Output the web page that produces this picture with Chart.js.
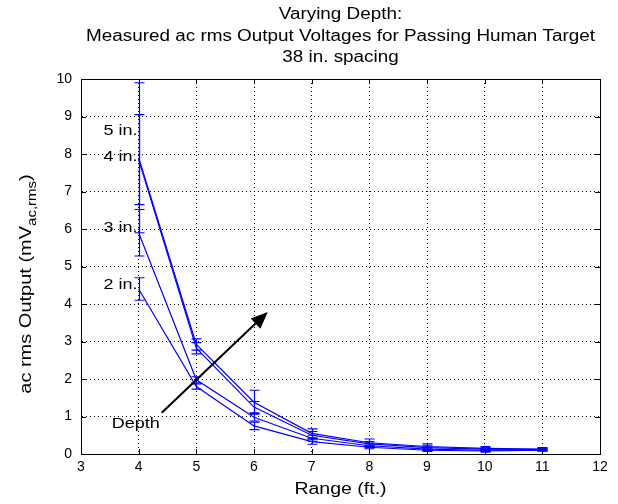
<!DOCTYPE html>
<html>
<head>
<meta charset="utf-8">
<script src="https://cdn.jsdelivr.net/npm/chart.js@4.4.0/dist/chart.umd.min.js"></script>
<style>
  html, body { margin: 0; padding: 0; background: #fff; }
  #wrap { width: 618px; height: 504px; }
</style>
</head>
<body>
<div id="wrap"><canvas id="depthChart" width="618" height="504"></canvas></div>
<script>
// ---- data ----
var ranges = [4, 5, 6, 7, 8, 9, 10, 11];
var depthNames = ['5 in.', '4 in.', '3 in.', '2 in.'];

var mean5in = [7.90, 2.92, 1.38, 0.55, 0.30, 0.20, 0.15, 0.13];
var err5in  = [2.00, 0.15, 0.32, 0.12, 0.10, 0.07, 0.05, 0.04];
var mean4in = [7.85, 2.82, 1.25, 0.50, 0.27, 0.17, 0.13, 0.12];
var err4in  = [1.20, 0.15, 0.15, 0.10, 0.06, 0.05, 0.04, 0.03];
var mean3in = [5.90, 1.98, 0.98, 0.42, 0.22, 0.13, 0.10, 0.11];
var err3in  = [0.62, 0.08, 0.10, 0.08, 0.05, 0.04, 0.03, 0.03];
var mean2in = [4.40, 1.80, 0.75, 0.33, 0.18, 0.10, 0.08, 0.10];
var err2in  = [0.30, 0.07, 0.10, 0.07, 0.04, 0.03, 0.03, 0.02];

var titleLines = ['Varying Depth:', 'Measured ac rms Output Voltages for Passing Human Target', '38 in. spacing'];
var xTitle = 'Range (ft.)';

// label anchors in data units
var depthLabelPos = [[3.98, 8.62], [3.98, 7.93], [3.98, 6.03], [3.98, 4.50]];
var arrowFrom = [4.40, 1.10];
var arrowTo = [6.24, 3.79];
var depthTextPos = [3.95, 0.80];

var FONT = '"Liberation Sans", Arial, sans-serif';
var BLUE = '#0000ff';
var STRETCH = 1.18;   // the old bitmap font is wider than Arial

function series(means, errs, name) {
    return {
        label: name,
        data: ranges.map(function (r, i) { return { x: r, y: means[i] }; }),
        errors: errs,
        borderColor: BLUE,
        backgroundColor: BLUE,
        borderWidth: 1.2,
        pointRadius: 0,
        tension: 0,
        fill: false
    };
}

function wideText(ctx, s, x, y, align, sx) {
    ctx.save();
    ctx.translate(x, y);
    ctx.scale(sx || STRETCH, 1);
    ctx.textAlign = align;
    ctx.fillText(s, 0, 0);
    ctx.restore();
}

// error bars with caps
var errorBars = {
    id: 'errorBars',
    afterDatasetsDraw: function (chart) {
        var ctx = chart.ctx, xs = chart.scales.x, ys = chart.scales.y;
        chart.data.datasets.forEach(function (ds) {
            ctx.save();
            ctx.strokeStyle = ds.borderColor;
            ctx.lineWidth = 1.2;
            ds.data.forEach(function (p, i) {
                var px = Math.round(xs.getPixelForValue(p.x)) + 0.5;
                var top = ys.getPixelForValue(p.y + ds.errors[i]);
                var bot = ys.getPixelForValue(p.y - ds.errors[i]);
                ctx.beginPath();
                ctx.moveTo(px, top); ctx.lineTo(px, bot);
                ctx.moveTo(px - 5, top); ctx.lineTo(px + 5, top);
                ctx.moveTo(px - 5, bot); ctx.lineTo(px + 5, bot);
                ctx.stroke();
            });
            ctx.restore();
        });
    }
};

// frame, inward ticks, titles, labels, arrow
var decorations = {
    id: 'decorations',
    afterDraw: function (chart) {
        var ctx = chart.ctx, a = chart.chartArea, xs = chart.scales.x, ys = chart.scales.y;
        ctx.save();
        ctx.strokeStyle = '#000';
        ctx.lineWidth = 1;
        ctx.strokeRect(Math.round(a.left) + 0.5, Math.round(a.top) + 0.5,
            Math.round(a.right - a.left), Math.round(a.bottom - a.top));

        ctx.beginPath();
        xs.ticks.forEach(function (t) {
            var px = Math.round(xs.getPixelForValue(t.value)) + 0.5;
            ctx.moveTo(px, a.bottom); ctx.lineTo(px, a.bottom - 5);
            ctx.moveTo(px, a.top); ctx.lineTo(px, a.top + 5);
        });
        ys.ticks.forEach(function (t) {
            var py = Math.round(ys.getPixelForValue(t.value)) + 0.5;
            ctx.moveTo(a.left, py); ctx.lineTo(a.left + 5, py);
            ctx.moveTo(a.right, py); ctx.lineTo(a.right - 5, py);
        });
        ctx.stroke();

        ctx.fillStyle = '#000';
        ctx.textBaseline = 'middle';
        var cx = (a.left + a.right) / 2;
        ctx.font = '16px ' + FONT;
        titleLines.forEach(function (s, i) { wideText(ctx, s, cx, 15 + i * 21.5, 'center'); });
        wideText(ctx, xTitle, cx, 490, 'center', 1.22);

        // y title with subscript
        ctx.save();
        ctx.translate(27, 284);
        ctx.rotate(-Math.PI / 2);
        ctx.scale(1.25, 1);
        var main = 'ac rms Output (mV', sub = 'ac,rms', close = ')';
        ctx.font = '16px ' + FONT;
        var w1 = ctx.measureText(main).width, w3 = ctx.measureText(close).width;
        ctx.font = '12px ' + FONT;
        var w2 = ctx.measureText(sub).width;
        var x0 = -(w1 + w2 + w3) / 2;
        ctx.textAlign = 'left';
        ctx.font = '16px ' + FONT;
        ctx.fillText(main, x0, 0);
        ctx.font = '12px ' + FONT;
        ctx.fillText(sub, x0 + w1, 6);
        ctx.font = '16px ' + FONT;
        ctx.fillText(close, x0 + w1 + w2, 0);
        ctx.restore();

        // depth labels
        ctx.font = '15px ' + FONT;
        depthNames.forEach(function (n, i) {
            wideText(ctx, n, xs.getPixelForValue(depthLabelPos[i][0]), ys.getPixelForValue(depthLabelPos[i][1]), 'right', 1.2);
        });
        wideText(ctx, 'Depth', xs.getPixelForValue(depthTextPos[0]), ys.getPixelForValue(depthTextPos[1]), 'center', 1.2);

        // arrow
        var x1 = xs.getPixelForValue(arrowFrom[0]), y1 = ys.getPixelForValue(arrowFrom[1]);
        var x2 = xs.getPixelForValue(arrowTo[0]), y2 = ys.getPixelForValue(arrowTo[1]);
        var ang = Math.atan2(y2 - y1, x2 - x1), hl = 17, hw = 7;
        var bx = x2 - hl * Math.cos(ang), by = y2 - hl * Math.sin(ang);
        ctx.lineWidth = 2;
        ctx.beginPath();
        ctx.moveTo(x1, y1); ctx.lineTo(bx, by);
        ctx.stroke();
        ctx.beginPath();
        ctx.moveTo(x2, y2);
        ctx.lineTo(bx + hw * Math.sin(ang), by - hw * Math.cos(ang));
        ctx.lineTo(bx - hw * Math.sin(ang), by + hw * Math.cos(ang));
        ctx.closePath();
        ctx.fill();
        ctx.restore();
    }
};

new Chart(document.getElementById('depthChart'), {
    type: 'line',
    data: {
        datasets: [
            series(mean5in, err5in, depthNames[0]),
            series(mean4in, err4in, depthNames[1]),
            series(mean3in, err3in, depthNames[2]),
            series(mean2in, err2in, depthNames[3])
        ]
    },
    options: {
        responsive: false,
        animation: false,
        devicePixelRatio: 1,
        layout: { padding: { top: 79, right: 18, bottom: 0, left: 0 } },
        scales: {
            x: {
                type: 'linear', min: 3, max: 12,
                afterFit: function (s) { s.height = 50; },
                ticks: { stepSize: 1, color: '#000', padding: 5, maxRotation: 0, font: { family: FONT, size: 14 } },
                grid: { color: '#000', lineWidth: 1, drawTicks: false },
                border: { display: true, color: '#000', width: 1, dash: [1, 3] }
            },
            y: {
                min: 0, max: 10,
                afterFit: function (s) { s.width = 81; },
                ticks: { stepSize: 1, color: '#000', padding: 9, font: { family: FONT, size: 14 } },
                grid: { color: '#000', lineWidth: 1, drawTicks: false },
                border: { display: true, color: '#000', width: 1, dash: [1, 3] }
            }
        },
        plugins: {
            legend: { display: false },
            title: { display: false },
            tooltip: { enabled: false }
        }
    },
    plugins: [errorBars, decorations]
});
</script>
</body>
</html>
